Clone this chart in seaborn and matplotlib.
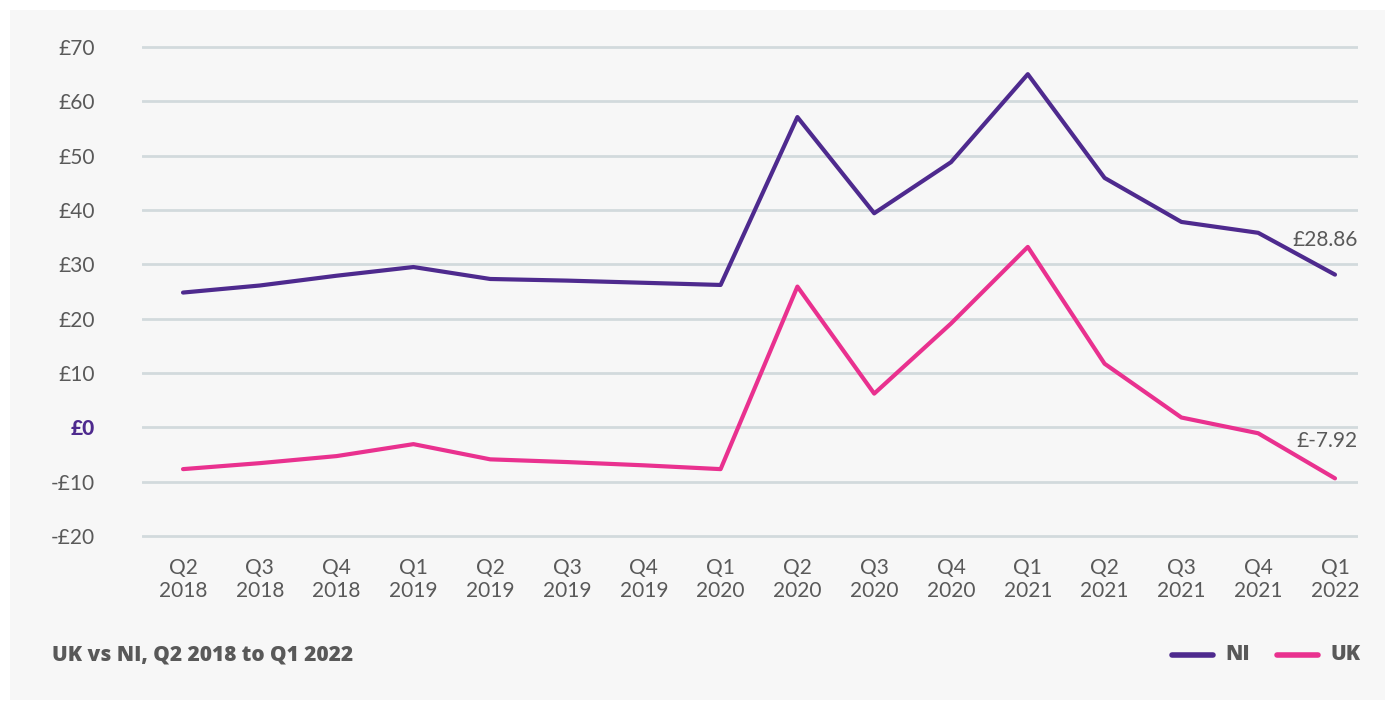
import pandas as pd
import seaborn as sns
import matplotlib.pyplot as plt
from matplotlib.patches import Rectangle

quarters = ['Q2\n2018', 'Q3\n2018', 'Q4\n2018', 'Q1\n2019', 'Q2\n2019', 'Q3\n2019', 'Q4\n2019', 'Q1\n2020',
            'Q2\n2020', 'Q3\n2020', 'Q4\n2020', 'Q1\n2021', 'Q2\n2021', 'Q3\n2021', 'Q4\n2021', 'Q1\n2022']
ni = [24.8, 26.1, 27.9, 29.5, 27.3, 27.0, 26.6, 26.2, 57.1, 39.4, 48.8, 65.0, 45.9, 37.8, 35.8, 28.1]
uk = [-7.7, -6.6, -5.3, -3.1, -5.9, -6.4, -7.0, -7.7, 25.9, 6.2, 19.1, 33.2, 11.7, 1.8, -1.1, -9.4]
yticks = [70, 60, 50, 40, 30, 20, 10, 0, -10, -20]
end_labels = {'NI': '£28.86', 'UK': '£-7.92'}

NI_C = '#4e2a8e'
UK_C = '#e9318f'
TXT = '#595959'

df = pd.DataFrame({
    'x': list(range(len(quarters))) * 2,
    'value': ni + uk,
    'series': ['NI'] * len(ni) + ['UK'] * len(uk),
})

sns.set_theme(style='white')
plt.rcParams['font.family'] = ['Lato', 'DejaVu Sans']

fig = plt.figure(figsize=(13.95, 7.01), dpi=100)
fig.patch.set_facecolor('white')
fig.patches.append(Rectangle((10 / 1395, 1 / 701), 1375 / 1395, 690 / 701,
                             transform=fig.transFigure, facecolor='#f7f7f7', edgecolor='none', zorder=-5))

ax = fig.add_axes([0.1018, 0.2277, 0.8717, 0.713])
ax.set_facecolor('none')

sns.lineplot(data=df, x='x', y='value', hue='series', palette={'NI': NI_C, 'UK': UK_C},
             linewidth=3, ax=ax, legend=False)

ax.set_xlim(-0.534, 15.30)
ax.set_ylim(-21, 71)
ax.set_yticks(yticks)
ax.set_yticklabels([('£%d' % v) if v >= 0 else ('-£%d' % -v) for v in yticks])
ax.set_xticks(range(len(quarters)))
ax.set_xticklabels(quarters, linespacing=1.2)
ax.tick_params(axis='both', length=0, labelsize=15, labelcolor=TXT)
ax.tick_params(axis='y', pad=34)
ax.tick_params(axis='x', pad=12)
for lab in ax.get_yticklabels():
    if lab.get_text() == '£0':
        lab.set_color(NI_C)
        lab.set_fontweight('black')

for y in yticks:
    ax.axhline(y, color='#d2dadd', linewidth=2, zorder=0)
for s in ax.spines.values():
    s.set_visible(False)
ax.set_xlabel('')
ax.set_ylabel('')

ax.text(15.30, 34.4, end_labels['NI'], ha='right', va='center', fontsize=15, color=TXT)
ax.text(15.30, -2.5, end_labels['UK'], ha='right', va='center', fontsize=15, color=TXT)

fig.text(52 / 1395, 1 - 655 / 701, 'UK vs NI, Q2 2018 to Q1 2022', ha='left', va='center',
         fontsize=15, fontweight='heavy', color=TXT, family=['Open Sans', 'DejaVu Sans'])

# legend
for x0, col, name in [(1172, NI_C, 'NI'), (1277, UK_C, 'UK')]:
    fig.lines.append(plt.Line2D([x0 / 1395, (x0 + 41) / 1395], [1 - 655 / 701] * 2,
                                transform=fig.transFigure, color=col, linewidth=4))
    fig.text((x0 + 53) / 1395, 1 - 655 / 701, name, ha='left', va='center',
             fontsize=15, fontweight='heavy', color=TXT, family=['Open Sans', 'DejaVu Sans'])

fig.savefig('out.png', dpi=100)
